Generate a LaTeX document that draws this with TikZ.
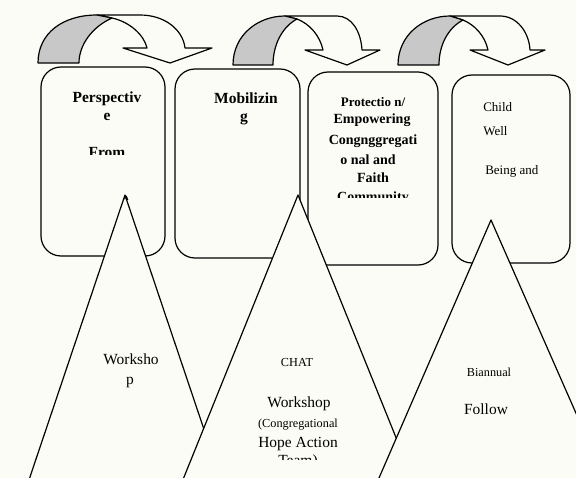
\documentclass[tikz,border=0pt]{standalone}
\usepackage{fontspec}
\setmainfont{Liberation Serif}
\definecolor{bg}{RGB}{252,252,246}
\definecolor{shade}{RGB}{200,200,200}
\newcommand\myfs[1]{\fontsize{#1}{#1}\selectfont}
\begin{document}
\begin{tikzpicture}[x=0.75pt,y=-0.75pt,
  outl/.style={draw=black, line width=0.9pt, line join=round},
  boxsty/.style={outl, fill=bg, rounded corners=15pt},
  tri/.style={outl, fill=bg},
  bandw/.style={outl, fill=bg},
  bandg/.style={outl, fill=shade},
  txt/.style={inner sep=0pt, anchor=base},
  bb/.style={txt, font=\bfseries\myfs{10.5}},
  bbl/.style={txt, font=\bfseries\myfs{11.6}},
  bbs/.style={txt, font=\bfseries\myfs{9.75}},
  rr/.style={txt, font=\myfs{9.75}},
  rs/.style={txt, font=\myfs{9.2}},
  rl/.style={txt, font=\myfs{11.6}}]
\useasboundingbox (0,0) rectangle (576,478);
\clip (0,0) rectangle (576,478);
\fill[bg] (0,0) rectangle (576,478);

% curved arrows
\draw[bandw] (97,15) -- (140,15) .. controls (165,15) and (183,30) .. (185,48) -- (212,48) -- (170,63) -- (123,48) -- (147,48) .. controls (144,35) and (130,22) .. (112,18) -- cycle;
\draw[bandg] (38,63) .. controls (38,33) and (63,15) .. (97,15) -- (112,18) .. controls (92,27) and (79,45) .. (79,63) -- cycle;

\draw[bandw] (285,16) -- (337,16) .. controls (352,16) and (361,32) .. (362,50) -- (380,50) -- (347,65) -- (305,50) -- (323,50) .. controls (320,36) and (310,24) .. (297,19) -- cycle;
\draw[bandg] (233,65) .. controls (233,35) and (258,16) .. (285,16) -- (297,19) .. controls (282,27) and (273,45) .. (273,65) -- cycle;

\draw[bandw] (450,16) -- (500,16) .. controls (517,16) and (529,32) .. (530,50) -- (545,50) -- (508,65) -- (470,50) -- (488,50) .. controls (485,36) and (475,25) .. (463,20) -- cycle;
\draw[bandg] (398,65) .. controls (398,35) and (423,16) .. (450,16) -- (463,20) .. controls (448,28) and (439,45) .. (439,65) -- cycle;

% boxes
\draw[boxsty] (41,67) rectangle (165,256);
\draw[boxsty] (175,69) rectangle (300,258);
\draw[boxsty] (308,72) rectangle (438,265);
\draw[boxsty] (452,75) rectangle (570,263);

% box texts
\begin{scope}
\clip (41,67) rectangle (165,155);
\node[bbl] (p1) at (107,103) {Perspectiv};
\node[bbl] (p2) at (107,121) {e};
\node[bbl] (p3) at (107,158) {From};
\end{scope}
\node[bbl] (m1) at (246,104) {Mobilizin};
\node[bbl] (m2) at (244,122) {g};
\begin{scope}
\clip (308,72) rectangle (438,198);
\node[bbs] (c1) at (373,106.5) {Protectio n/};
\node[bb] (c2) at (372,123.5) {Empowering};
\node[bb] (c3) at (373,144.5) {Congnggregati};
\node[bb] (c4) at (368,164.5) {o nal and};
\node[bb] (c5) at (373,182.5) {Faith};
\node[bb] (c6) at (373,202) {Community};
\end{scope}
\node[rr, anchor=base west] (w1) at (483,111.5) {Child};
\node[rr, anchor=base west] (w2) at (483,135.5) {Well};
\node[rr, anchor=base west] (w3) at (485,174.5) {Being and};

% triangles
\draw[tri] (2,560) -- (125,195) -- (248,560) -- cycle;
\draw[tri] (150.5,560) -- (298,195) -- (445.5,560) -- cycle;
\draw[tri] (343.4,560) -- (491,220) -- (640.6,560) -- cycle;

% triangle texts
\node[rl] (t1) at (131,364) {Worksho};
\node[rl] (t2) at (130,384) {p};
\node[rs] (u1) at (297,367) {CHAT};
\node[rl] (u2) at (299,407) {Workshop};
\node[rs] (u3) at (298,427) {(Congregational};
\node[rl] (u4) at (298,447) {Hope Action};
\begin{scope}
\clip (200,440) rectangle (400,459);
\node[rl] (u5) at (298,465) {Team)};
\end{scope}
\node[rs] (v1) at (489,377) {Biannual};
\node[rl] (v2) at (486,415) {Follow};
\begin{scope}
\clip (100,190) rectangle (150,200);
\node[bb] (a1) at (126,205) {A};
\end{scope}
\end{tikzpicture}
\end{document}
